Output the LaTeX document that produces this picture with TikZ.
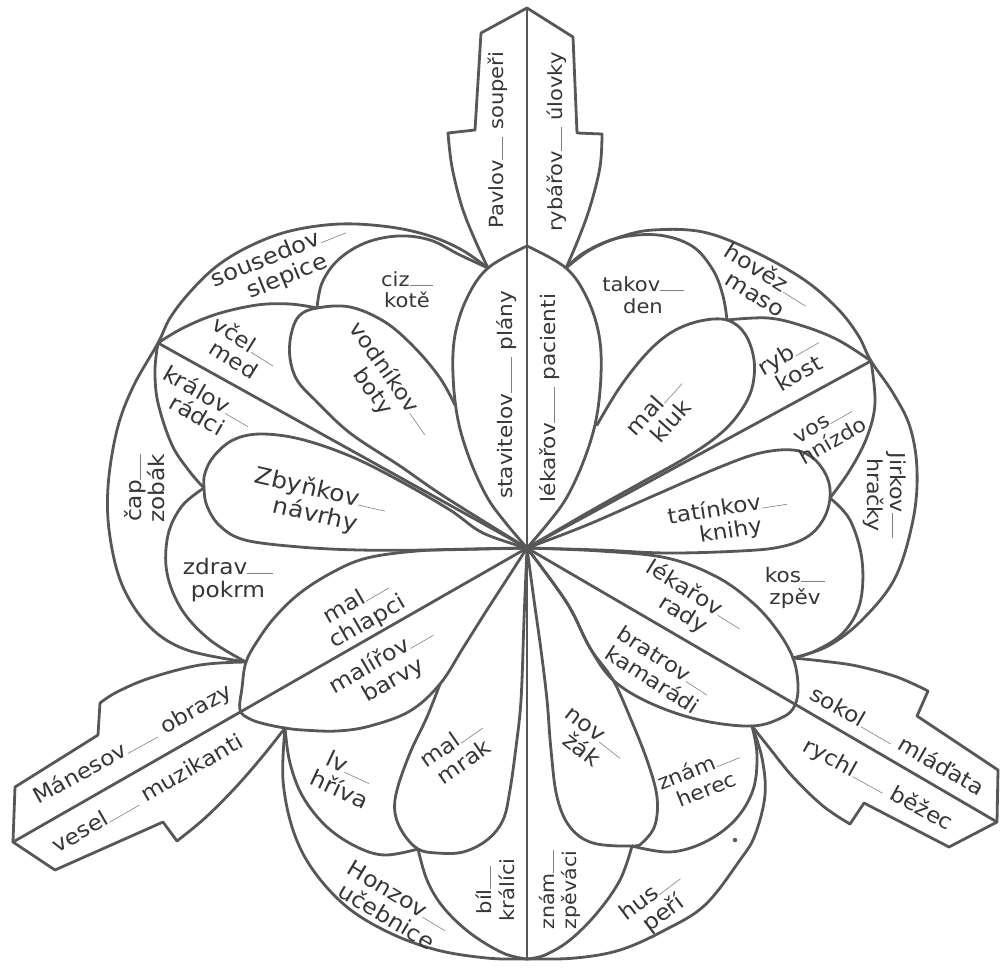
\documentclass[tikz,border=0pt]{standalone}
\usepackage{fontspec}
\setmainfont{DejaVu Sans}[FakeStretch=1.08]
\definecolor{lncol}{HTML}{575757}
\definecolor{txcol}{HTML}{363636}
\newcommand\fz[2]{\fontsize{#1}{#2}\selectfont}
\newcommand\wb[1][1.2em]{\textcolor{black!50}{\rule[0.05em]{#1}{0.6pt}}}
\tikzset{
  ln/.style={draw=lncol, line width=2.8pt, line join=round, line cap=round},
  lbl/.style={font=\fz{21}{23}, text=txcol, align=center, inner sep=0pt},
  sm/.style={smooth, tension=0.6}
}
\begin{document}
\begin{tikzpicture}[x=1pt,y=-1pt]
\useasboundingbox (0,0) rectangle (1000,970);
% key points
\coordinate (C) at (527,548);
\coordinate (Top) at (527,8);
\coordinate (B0) at (527,246);
\coordinate (Bot) at (527,959);
\coordinate (JL) at (488,268);
\coordinate (JR) at (566,268);
\coordinate (ML) at (158,343);
\coordinate (MR) at (871,361);
\coordinate (J1) at (317,308);
\coordinate (J2) at (727,320);
\coordinate (Z) at (204,488);
\coordinate (JT) at (830,498);
\coordinate (JLL) at (246,662);
\coordinate (JLL2) at (285,728);
\coordinate (JLR) at (793,658);
\coordinate (JLR2) at (752,726);
\coordinate (Mb) at (418,849);
\coordinate (Nb) at (632,846);
\coordinate (LLtip) at (13,842);
\coordinate (LRtip) at (997,822);
\coordinate (Vk) at (455,405);
\coordinate (Kk) at (597,425);
\coordinate (Mm) at (440,684);
\coordinate (Nn) at (613,680);

% straight lines
\draw[ln] (Top) -- (Bot);
\draw[ln] (C) -- (ML);
\draw[ln] (C) -- (MR);
\draw[ln] (C) -- (LLtip);
\draw[ln] (C) -- (LRtip);

% central vertical petal
\draw[ln] plot[sm] coordinates {(C) (505,522) (487,497) (470,460) (458,420) (453,375) (455,335) (467,298) (JL) (B0)};
\draw[ln] plot[sm] coordinates {(C) (549,522) (567,497) (584,460) (596,420) (601,375) (599,335) (587,298) (JR) (B0)};

% top leaf
\draw[ln] plot[sm] coordinates {(JL) (475,240) (462,207) (452,167) (448,133)};
\draw[ln] (448,133) -- (475,130) -- (481,33) -- (Top) -- (573,37) -- (577,133) -- (602,134);
\draw[ln] plot[sm] coordinates {(602,134) (600,167) (590,207) (578,240) (JR)};

% left leaf
\draw[ln] plot[sm] coordinates {(JLL) (200,665) (150,678) (117,692) (100,703)};
\draw[ln] (100,703) -- (98,735) -- (15,787) -- (LLtip) -- (55,870) -- (163,822) -- (177,841);
\draw[ln] plot[sm] coordinates {(177,841) (205,818) (235,788) (262,757) (JLL2)};

% right leaf
\draw[ln] plot[sm] coordinates {(JLR) (822,661) (857,666) (897,677) (928,691)};
\draw[ln] (928,691) -- (917,716) -- (998,770) -- (LRtip) -- (949,847) -- (864,803) -- (850,824);
\draw[ln] plot[sm] coordinates {(850,824) (823,806) (793,777) (771,750) (JLR2)};

% upper-left sector
\draw[ln] plot[sm] coordinates {(JL) (462,250) (430,236) (390,227) (340,224) (290,231) (250,246) (217,266) (190,292) (170,318) (ML) (133,387) (117,430) (108,487) (110,537) (123,587) (150,627) (187,650) (JLL)};
\draw[ln] plot[sm] coordinates {(J1) (322,283) (338,260) (365,243) (398,236) (430,240) (460,255) (JL)};
\draw[ln] plot[sm] coordinates {(ML) (183,328) (217,314) (257,305) (290,304) (J1)};
\draw[ln] plot[sm] coordinates {(Vk) (440,378) (415,348) (385,322) (350,307) (J1) (299,316) (291,335) (290,358) (297,380) (315,400) (350,433) (400,466) (445,497) (C)};
\draw[ln] plot[sm] coordinates {(C) (483,533) (450,510) (400,481) (350,456) (300,439) (260,434) (233,440) (214,456) (205,473) (Z) (207,506) (220,526) (245,540) (300,547) (360,550) (430,550) (C)};
\draw[ln] plot[sm] coordinates {(ML) (155,370) (158,403) (172,445) (190,472) (Z)};
\draw[ln] plot[sm] coordinates {(Z) (182,506) (168,535) (167,573) (182,610) (210,640) (JLL)};

% lower-left double petal
\draw[ln] plot[sm] coordinates {(C) (470,549) (417,551) (367,558) (333,572) (300,593) (275,617) (258,640) (JLL) (242,688) (240,710) (250,719) (265,724) (JLL2) (303,730) (337,731) (370,726) (410,711) (Mm) (463,648) (485,613) (507,579) (C)};

% bottom sector
\draw[ln] plot[sm] coordinates {(Mm) (427,717) (410,753) (397,790) (395,813) (403,833) (Mb) (437,853) (463,852) (487,840) (503,820) (510,790) (516,747) (520,713) (522,680) (524,620) (C)};
\draw[ln] plot[sm] coordinates {(JLL2) (290,763) (303,797) (327,827) (357,847) (385,855) (Mb)};
\draw[ln] plot[sm] coordinates {(Mb) (427,880) (443,907) (470,933) (503,953) (Bot)};
\draw[ln] plot[sm] coordinates {(JLL2) (283,780) (293,830) (313,870) (347,907) (390,933) (437,950) (487,958) (Bot) (575,958) (620,950) (665,930) (705,905) (740,860) (755,835) (765,795) (762,758) (JLR2)};
\draw[ln] plot[sm] coordinates {(C) (534,600) (541,650) (547,700) (551,750) (557,797) (570,827) (593,843) (Nb) (643,842) (655,825) (657,797) (648,763) (632,722) (Nn) (590,648) (567,603) (C)};
\draw[ln] plot[sm] coordinates {(JLR2) (757,755) (753,790) (735,820) (705,842) (670,852) (Nb)};
\draw[ln] plot[sm] coordinates {(Nb) (620,880) (597,913) (570,940) (545,955) (Bot)};
\fill[lncol] (735,840) circle (2.2);

% lower-right double petal
\draw[ln] plot[sm] coordinates {(C) (600,551) (667,558) (717,577) (753,603) (777,630) (JLR) (798,685) (795,705) (783,717) (JLR2) (700,720) (650,703) (Nn) (590,648) (567,603) (C)};

% upper-right sector
\draw[ln] plot[sm] coordinates {(JR) (590,250) (620,237) (653,230) (703,232) (753,251) (803,279) (837,308) (858,335) (MR) (893,393) (910,427) (917,470) (913,520) (895,578) (862,620) (828,646) (JLR)};
\draw[ln] plot[sm] coordinates {(JR) (585,252) (618,238) (658,235) (692,246) (713,270) (723,296) (J2)};
\draw[ln] plot[sm] coordinates {(J2) (768,318) (803,326) (838,340) (MR)};
\draw[ln] plot[sm] coordinates {(Kk) (620,387) (647,353) (672,332) (700,321) (J2) (745,334) (754,360) (752,388) (740,412) (720,434) (687,457) (637,485) (587,513) (C)};
\draw[ln] plot[sm] coordinates {(C) (587,525) (653,496) (720,467) (760,453) (793,450) (813,458) (827,477) (JT) (823,520) (807,537) (780,547) (740,551) (667,553) (600,550) (C)};
\draw[ln] plot[sm] coordinates {(MR) (875,403) (867,437) (850,470) (JT)};
\draw[ln] plot[sm] coordinates {(JT) (850,520) (862,560) (860,603) (843,633) (815,651) (JLR)};

% labels
\node[lbl, font=\fz{19.5}{21}, rotate=90] (pavlov) at (498,140) {Pavlov\wb\ soupeři};
\node[lbl, font=\fz{19.5}{21}, rotate=90] (rybarov) at (557,142) {rybářov\wb\ úlovky};
\node[lbl, font=\fz{20}{21}, rotate=90] (stavit) at (507,395) {stavitelov\wb[1.8em]\ plány};
\node[lbl, font=\fz{20}{21}, rotate=90] (lekpac) at (550,398) {lékařov\wb[1.8em]\ pacienti};
\node[lbl, font=\fz{19.5}{21}] (ciz) at (407,290) {ciz\wb\\kotě};
\node[lbl, font=\fz{22.5}{24}, rotate=22] (sous) at (283,266) {sousedov\wb\\slepice};
\node[lbl, font=\fz{21.5}{22}, rotate=-32] (vcel) at (240,350) {včel\wb\\med};
\node[lbl, font=\fz{22}{22}, rotate=-30] (kral) at (203,405) {králov\wb\\rádci};
\node[lbl, font=\fz{21.5}{23}, rotate=-55] (vodn) at (382,385) {vodníkov\wb\\boty};
\node[lbl, font=\fz{23}{25}, rotate=-13] (zbyn) at (318,503) {Zbyňkov\wb\\návrhy};
\node[lbl, font=\fz{21.5}{23}] (zdrav) at (228,580) {zdrav\wb\\pokrm};
\node[lbl, font=\fz{21.5}{23}, rotate=90] (cap) at (145,488) {čap\wb\\zobák};
\node[lbl, font=\fz{22}{23}, rotate=48] (kluk) at (662,413) {mal\wb\\kluk};
\node[lbl, font=\fz{19.5}{22}] (takov) at (643,295) {takov\wb\\den};
\node[lbl, font=\fz{22}{23}, rotate=-32] (hovez) at (762,284) {hověz\wb\\maso};
\node[lbl, font=\fz{22}{23}, rotate=30] (ryb) at (793,363) {ryb\wb\\kost};
\node[lbl, font=\fz{20.5}{22}, rotate=30] (vos) at (828,433) {vos\wb\\hnízdo};
\node[lbl, font=\fz{20.5}{23}, rotate=-90] (jirk) at (885,495) {Jirkov\wb\\hračky};
\node[lbl, font=\fz{21.5}{23}, rotate=9] (tatin) at (729,520) {tatínkov\wb\\knihy};
\node[lbl, font=\fz{20}{22}] (kos) at (795,588) {kos\wb\\zpěv};
\node[lbl, font=\fz{21.5}{23}, rotate=-32] (lekrad) at (689,605) {lékařov\wb\\rady};
\node[lbl, font=\fz{21}{23}, rotate=-33] (bratr) at (659,670) {bratrov\wb\\kamarádi};
\node[lbl, font=\fz{22}{23}, rotate=-38] (nov) at (588,742) {nov\wb\\žák};
\node[lbl, font=\fz{20.5}{23}, rotate=22] (herec) at (702,778) {znám\wb\\herec};
\node[lbl, font=\fz{19}{22}, rotate=90] (zpev) at (560,890) {znám\wb\\zpěváci};
\node[lbl, font=\fz{22}{23}, rotate=37] (hus) at (657,905) {hus\wb\\peří};
\node[lbl, font=\fz{19.5}{23}, rotate=90] (bil) at (495,890) {bíl\wb\\králíci};
\node[lbl, font=\fz{22}{24}, rotate=-31] (honz) at (393,906) {Honzov\wb\\učebnice};
\node[lbl, font=\fz{22.5}{24}, rotate=-25] (lv) at (345,778) {lv\wb\\hříva};
\node[lbl, font=\fz{21.5}{23}, rotate=35] (mrak) at (457,752) {mal\wb\\mrak};
\node[lbl, font=\fz{22}{24}, rotate=30] (chlap) at (362,612) {mal\wb\\chlapci};
\node[lbl, font=\fz{22}{24}, rotate=30] (malir) at (387,670) {malířov\wb\\barvy};
\node[lbl, font=\fz{21.5}{23}, rotate=29] (manes) at (133,745) {Mánesov\wb[1.6em]\ obrazy};
\node[lbl, font=\fz{21.5}{23}, rotate=30] (vesel) at (147,793) {vesel\wb[1.6em]\ muzikanti};
\node[lbl, font=\fz{21.5}{23}, rotate=-30] (sokol) at (898,740) {sokol\wb[1.6em]\ mláďata};
\node[lbl, font=\fz{21.5}{23}, rotate=-29] (rychl) at (878,785) {rychl\wb[1.6em]\ běžec};
\end{tikzpicture}
\end{document}
